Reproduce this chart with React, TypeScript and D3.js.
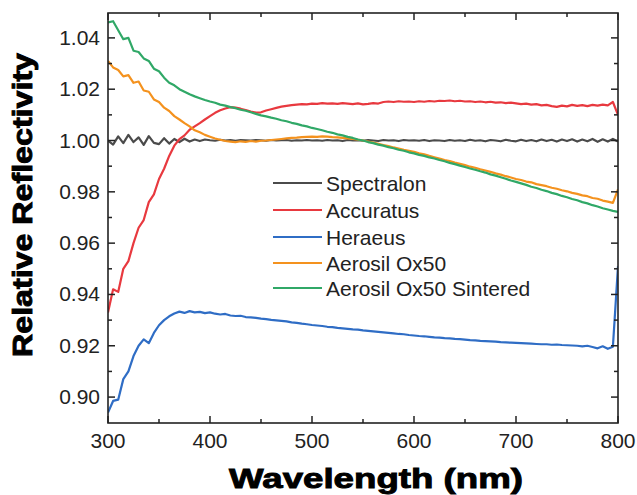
import React, { useEffect, useRef } from "react";
import * as d3 from "d3";

// Wavelength sampling (nm), every 5 nm from 300 to 800
const wavelengths: number[] = d3.range(300, 801, 5);

const seriesNames = ["Spectralon", "Accuratus", "Heraeus", "Aerosil Ox50", "Aerosil Ox50 Sintered"];
const seriesColors = ["#4b4b4b", "#e8393f", "#2f6dc5", "#f4921e", "#30a867"];

const spectralon = [
  1.0000, 0.9984, 1.0016, 0.9990, 1.0022, 0.9994, 1.0012, 0.9983, 1.0017, 0.9991,
  0.9986, 1.0009, 0.9988, 1.0006, 0.9994, 1.0007, 0.9996, 1.0004, 0.9998, 1.0004,
  1.0001, 0.9999, 1.0003, 1.0000, 1.0002, 0.9999, 1.0002, 1.0001, 1.0000, 1.0002,
  1.0001, 0.9999, 1.0002, 1.0000, 1.0001, 1.0002, 0.9999, 1.0001, 1.0000, 1.0002,
  1.0000, 1.0001, 0.9999, 1.0002, 1.0000, 1.0001, 0.9998, 1.0002, 1.0000, 1.0001,
  0.9999, 1.0002, 1.0000, 0.9998, 1.0002, 1.0000, 1.0001, 0.9998, 1.0002, 1.0000,
  1.0001, 0.9999, 1.0002, 0.9998, 1.0001, 1.0000, 0.9998, 1.0002, 0.9999, 1.0001,
  0.9998, 1.0003, 0.9999, 1.0001, 0.9997, 1.0002, 1.0000, 0.9997, 1.0003, 0.9999,
  0.9997, 1.0003, 0.9998, 1.0002, 0.9997, 1.0004, 0.9998, 1.0003, 0.9996, 1.0004,
  0.9998, 1.0005, 0.9996, 1.0004, 0.9997, 1.0006, 0.9995, 1.0005, 0.9996, 1.0006,
  0.9996,
];

const accuratus = [
  0.9330, 0.9420, 0.9410, 0.9500, 0.9530, 0.9600, 0.9660, 0.9690, 0.9760, 0.9790,
  0.9850, 0.9890, 0.9940, 0.9980, 1.0005, 1.0020, 1.0042, 1.0055, 1.0068, 1.0082,
  1.0095, 1.0108, 1.0118, 1.0125, 1.0130, 1.0128, 1.0124, 1.0119, 1.0113, 1.0109,
  1.0110, 1.0117, 1.0122, 1.0127, 1.0132, 1.0135, 1.0138, 1.0140, 1.0142, 1.0141,
  1.0144, 1.0143, 1.0146, 1.0144, 1.0145, 1.0143, 1.0146, 1.0144, 1.0142, 1.0145,
  1.0141, 1.0143, 1.0146, 1.0144, 1.0150, 1.0152, 1.0150, 1.0153, 1.0151, 1.0152,
  1.0150, 1.0153, 1.0151, 1.0154, 1.0152, 1.0155, 1.0154, 1.0156, 1.0153, 1.0155,
  1.0152, 1.0153, 1.0150, 1.0152, 1.0149, 1.0151, 1.0148, 1.0149, 1.0146, 1.0148,
  1.0145, 1.0142, 1.0144, 1.0140, 1.0142, 1.0137, 1.0139, 1.0134, 1.0131, 1.0136,
  1.0133, 1.0139, 1.0135, 1.0138, 1.0134, 1.0139, 1.0136, 1.0140, 1.0137, 1.0150,
  1.0100,
];

const heraeus = [
  0.8940, 0.8985, 0.8990, 0.9070, 0.9100, 0.9160, 0.9200, 0.9225, 0.9210, 0.9250,
  0.9280, 0.9300, 0.9315, 0.9326, 0.9333, 0.9328, 0.9335, 0.9330, 0.9332, 0.9327,
  0.9330, 0.9325, 0.9322, 0.9324, 0.9318, 0.9316, 0.9317, 0.9312, 0.9311, 0.9309,
  0.9306, 0.9304, 0.9301, 0.9299, 0.9297, 0.9295, 0.9291, 0.9289, 0.9286, 0.9284,
  0.9281, 0.9279, 0.9277, 0.9274, 0.9273, 0.9270, 0.9268, 0.9266, 0.9264, 0.9263,
  0.9260, 0.9258, 0.9256, 0.9254, 0.9252, 0.9250, 0.9248, 0.9246, 0.9245, 0.9242,
  0.9240, 0.9238, 0.9237, 0.9235, 0.9233, 0.9232, 0.9230, 0.9229, 0.9227, 0.9226,
  0.9224, 0.9222, 0.9221, 0.9219, 0.9218, 0.9217, 0.9216, 0.9214, 0.9213, 0.9212,
  0.9211, 0.9210, 0.9209, 0.9208, 0.9207, 0.9206, 0.9206, 0.9204, 0.9205, 0.9203,
  0.9202, 0.9201, 0.9200, 0.9198, 0.9200, 0.9195, 0.9190, 0.9198, 0.9188, 0.9196,
  0.9510,
];

const aerosil = [
  1.0310, 1.0285, 1.0275, 1.0250, 1.0255, 1.0225, 1.0230, 1.0195, 1.0190, 1.0160,
  1.0150, 1.0128, 1.0115, 1.0095, 1.0082, 1.0068, 1.0055, 1.0040, 1.0032, 1.0022,
  1.0015, 1.0008, 1.0003, 0.9998, 0.9996, 0.9994, 0.9997, 0.9995, 0.9998, 0.9996,
  0.9999, 1.0000, 1.0002, 1.0004, 1.0006, 1.0008, 1.0010, 1.0011, 1.0013, 1.0014,
  1.0015, 1.0014, 1.0016, 1.0015, 1.0013, 1.0012, 1.0010, 1.0008, 1.0006, 1.0003,
  1.0000, 0.9996, 0.9992, 0.9987, 0.9982, 0.9978, 0.9973, 0.9969, 0.9964, 0.9960,
  0.9956, 0.9950, 0.9946, 0.9940, 0.9935, 0.9930, 0.9924, 0.9920, 0.9914, 0.9909,
  0.9904, 0.9898, 0.9894, 0.9888, 0.9883, 0.9878, 0.9872, 0.9867, 0.9861, 0.9856,
  0.9850, 0.9846, 0.9840, 0.9837, 0.9830, 0.9826, 0.9822, 0.9816, 0.9812, 0.9806,
  0.9802, 0.9796, 0.9792, 0.9786, 0.9783, 0.9776, 0.9773, 0.9766, 0.9762, 0.9757,
  0.9810,
];

const aerosilSintered = [
  1.0460, 1.0465, 1.0430, 1.0395, 1.0400, 1.0350, 1.0345, 1.0320, 1.0310, 1.0280,
  1.0270, 1.0245, 1.0225, 1.0215, 1.0200, 1.0190, 1.0180, 1.0172, 1.0165, 1.0158,
  1.0152, 1.0147, 1.0140, 1.0136, 1.0130, 1.0126, 1.0120, 1.0116, 1.0110, 1.0104,
  1.0098, 1.0094, 1.0089, 1.0085, 1.0079, 1.0075, 1.0069, 1.0065, 1.0059, 1.0055,
  1.0049, 1.0045, 1.0040, 1.0034, 1.0030, 1.0024, 1.0020, 1.0014, 1.0010, 1.0004,
  1.0000, 0.9994, 0.9990, 0.9984, 0.9980, 0.9974, 0.9970, 0.9964, 0.9960, 0.9954,
  0.9950, 0.9944, 0.9940, 0.9934, 0.9930, 0.9924, 0.9919, 0.9913, 0.9908, 0.9902,
  0.9897, 0.9891, 0.9886, 0.9880, 0.9875, 0.9868, 0.9863, 0.9857, 0.9851, 0.9844,
  0.9839, 0.9833, 0.9827, 0.9820, 0.9815, 0.9808, 0.9803, 0.9796, 0.9791, 0.9784,
  0.9779, 0.9772, 0.9767, 0.9760, 0.9755, 0.9748, 0.9743, 0.9736, 0.9731, 0.9726,
  0.9722,
];

const allSeries = [spectralon, accuratus, heraeus, aerosil, aerosilSintered];

const xTicks = [300, 400, 500, 600, 700, 800];
const xMinorTicks = [350, 450, 550, 650, 750];
const yTicks = [0.90, 0.92, 0.94, 0.96, 0.98, 1.00, 1.02, 1.04];
const yMinorTicks = [0.91, 0.93, 0.95, 0.97, 0.99, 1.01, 1.03];

const W = 637;
const H = 495;
const M = { left: 108, right: 618, top: 13, bottom: 423 };

export default function App() {
  const ref = useRef<SVGSVGElement>(null);

  useEffect(() => {
    const svg = d3.select(ref.current);
    svg.selectAll("*").remove();

    const x = d3.scaleLinear().domain([300, 800]).range([M.left, M.right]);
    const y = d3.scaleLinear().domain([0.8899, 1.0497]).range([M.bottom, M.top]);

    const font = "'Liberation Sans', Arial, sans-serif";

    svg.append("defs").append("clipPath").attr("id", "plotclip")
      .append("rect").attr("x", M.left).attr("y", M.top - 1)
      .attr("width", M.right - M.left).attr("height", M.bottom - M.top + 2);

    const lineGen = d3.line<number>()
      .x((_, i) => x(wavelengths[i]))
      .y((d) => y(d));

    const g = svg.append("g").attr("clip-path", "url(#plotclip)");
    allSeries.forEach((s, k) => {
      g.append("path")
        .attr("d", lineGen(s) as string)
        .attr("fill", "none")
        .attr("stroke", seriesColors[k])
        .attr("stroke-width", 2.2)
        .attr("stroke-linejoin", "round");
    });

    svg.append("rect")
      .attr("x", M.left).attr("y", M.top)
      .attr("width", M.right - M.left).attr("height", M.bottom - M.top)
      .attr("fill", "none").attr("stroke", "#222").attr("stroke-width", 1.6);

    const tickG = svg.append("g").attr("stroke", "#222").attr("stroke-width", 1.5);
    const maj = 7, mn = 4;
    xTicks.forEach((t) => {
      tickG.append("line").attr("x1", x(t)).attr("x2", x(t)).attr("y1", M.bottom).attr("y2", M.bottom - maj);
      tickG.append("line").attr("x1", x(t)).attr("x2", x(t)).attr("y1", M.top).attr("y2", M.top + maj);
    });
    xMinorTicks.forEach((t) => {
      tickG.append("line").attr("x1", x(t)).attr("x2", x(t)).attr("y1", M.bottom).attr("y2", M.bottom - mn);
      tickG.append("line").attr("x1", x(t)).attr("x2", x(t)).attr("y1", M.top).attr("y2", M.top + mn);
    });
    yTicks.forEach((t) => {
      tickG.append("line").attr("x1", M.left).attr("x2", M.left + maj).attr("y1", y(t)).attr("y2", y(t));
      tickG.append("line").attr("x1", M.right).attr("x2", M.right - maj).attr("y1", y(t)).attr("y2", y(t));
    });
    yMinorTicks.forEach((t) => {
      tickG.append("line").attr("x1", M.left).attr("x2", M.left + mn).attr("y1", y(t)).attr("y2", y(t));
      tickG.append("line").attr("x1", M.right).attr("x2", M.right - mn).attr("y1", y(t)).attr("y2", y(t));
    });

    xTicks.forEach((t) => {
      svg.append("text").attr("x", x(t)).attr("y", 448)
        .attr("text-anchor", "middle").attr("font-family", font).attr("font-size", 21)
        .attr("fill", "#222").text(String(t));
    });
    yTicks.forEach((t) => {
      svg.append("text").attr("x", 100).attr("y", y(t) + 7)
        .attr("text-anchor", "end").attr("font-family", font).attr("font-size", 21)
        .attr("fill", "#222").text(d3.format(".2f")(t));
    });

    svg.append("text")
      .attr("x", 376).attr("y", 488)
      .attr("text-anchor", "middle").attr("font-family", font).attr("font-weight", "bold")
      .attr("font-size", 27).attr("fill", "#000").attr("stroke", "#000").attr("stroke-width", 0.9)
      .attr("textLength", 294).attr("lengthAdjust", "spacingAndGlyphs")
      .text("Wavelength (nm)");
    svg.append("text")
      .attr("transform", "translate(32,205) rotate(-90)")
      .attr("text-anchor", "middle").attr("font-family", font).attr("font-weight", "bold")
      .attr("font-size", 27).attr("fill", "#000").attr("stroke", "#000").attr("stroke-width", 0.9)
      .attr("textLength", 304).attr("lengthAdjust", "spacingAndGlyphs")
      .text("Relative Reflectivity");

    const legY = [183, 210, 237, 263, 288];
    seriesNames.forEach((name, k) => {
      svg.append("line").attr("x1", 273).attr("x2", 322)
        .attr("y1", legY[k]).attr("y2", legY[k])
        .attr("stroke", seriesColors[k]).attr("stroke-width", 2);
      svg.append("text").attr("x", 326).attr("y", legY[k] + 8)
        .attr("font-family", font).attr("font-size", 21).attr("fill", "#222")
        .text(name);
    });
  }, []);

  return (
    <svg ref={ref} width={W} height={H}
      style={{ position: "absolute", left: 0, top: 0, background: "#fff" }} />
  );
}
